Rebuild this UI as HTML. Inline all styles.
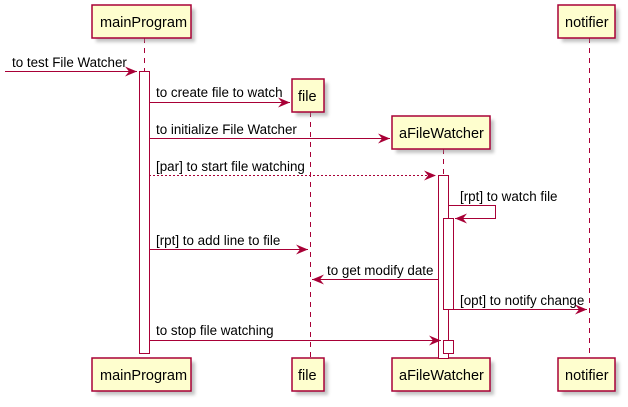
<!DOCTYPE html>
<html><head><meta charset="utf-8"><style>
html,body{margin:0;padding:0;background:#fff}
svg text{font-family:"Liberation Sans",sans-serif;font-size:13.4px;fill:#000}
.h{font-size:14.5px}
</style></head><body>
<svg width="628" height="402" viewBox="0 0 628 402" xmlns="http://www.w3.org/2000/svg">
<defs>
<filter id="s" x="-10%" y="-10%" width="130%" height="140%"><feGaussianBlur stdDeviation="1.5"/></filter>
</defs>
<g stroke="#A80036" stroke-width="1" stroke-dasharray="5,5" fill="none">
<line x1="144.5" y1="38" x2="144.5" y2="358"/>
<line x1="310.5" y1="112" x2="310.5" y2="358"/>
<line x1="443.5" y1="149" x2="443.5" y2="358"/>
<line x1="589.5" y1="38" x2="589.5" y2="358"/>
</g>
<g fill="#888" opacity="0.5" filter="url(#s)">
<rect x="96" y="9" width="99" height="33"/><rect x="296" y="83" width="32" height="33"/>
<rect x="396" y="120" width="98" height="33"/><rect x="562" y="9" width="57" height="33"/>
<rect x="96" y="362" width="99" height="33"/><rect x="296" y="362" width="32" height="33"/>
<rect x="396" y="362" width="98" height="33"/><rect x="562" y="362" width="57" height="33"/>
</g>
<g fill="#FEFECE" stroke="#A80036" stroke-width="1.5">
<rect x="92" y="5" width="99" height="33"/><rect x="292" y="79" width="32" height="33"/>
<rect x="392" y="116" width="98" height="33"/><rect x="558" y="5" width="57" height="33"/>
<rect x="92" y="358" width="99" height="33"/><rect x="292" y="358" width="32" height="33"/>
<rect x="392" y="358" width="98" height="33"/><rect x="558" y="358" width="57" height="33"/>
</g>
<text class="h" x="100" y="27">mainProgram</text><text class="h" x="298" y="101">file</text>
<text class="h" x="399" y="138">aFileWatcher</text><text class="h" x="565" y="27">notifier</text>
<text class="h" x="100" y="380">mainProgram</text><text class="h" x="298" y="380">file</text>
<text class="h" x="399" y="380">aFileWatcher</text><text class="h" x="565" y="380">notifier</text>
<g fill="#fff" stroke="#A80036" stroke-width="1">
<rect x="139.5" y="71.5" width="10" height="282"/>
<rect x="438.5" y="175.5" width="10" height="183"/>
<rect x="443.5" y="218.5" width="10" height="91"/>
<rect x="443.5" y="340.5" width="10" height="13"/>
</g>
<g stroke="#A80036" stroke-width="1" fill="none">
<line x1="5" y1="71.5" x2="137" y2="71.5"/>
<line x1="149" y1="102.5" x2="290" y2="102.5"/>
<line x1="149" y1="138.5" x2="390" y2="138.5"/>
<line x1="149" y1="175.5" x2="436" y2="175.5" stroke-dasharray="2,2"/>
<polyline points="448,205.5 495.5,205.5 495.5,218.5 455,218.5"/>
<line x1="149" y1="249.5" x2="308" y2="249.5"/>
<line x1="438" y1="279.5" x2="312" y2="279.5"/>
<line x1="453" y1="309.5" x2="587" y2="309.5"/>
<line x1="149" y1="340.5" x2="441" y2="340.5"/>
</g>
<g fill="#A80036">
<polygon points="137,71.5 125,66.5 129,71.5 125,76.5"/>
<polygon points="290,102.5 278,97.5 282,102.5 278,107.5"/>
<polygon points="390,138.5 378,133.5 382,138.5 378,143.5"/>
<polygon points="436,175.5 424,170.5 428,175.5 424,180.5"/>
<polygon points="455,218.5 467,213.5 463,218.5 467,223.5"/>
<polygon points="308,249.5 296,244.5 300,249.5 296,254.5"/>
<polygon points="312,279.5 324,274.5 320,279.5 324,284.5"/>
<polygon points="587,309.5 575,304.5 579,309.5 575,314.5"/>
<polygon points="441,340.5 429,335.5 433,340.5 429,345.5"/>
</g>
<text x="12" y="67">to test File Watcher</text>
<text x="156" y="97">to create file to watch</text>
<text x="156" y="134">to initialize File Watcher</text>
<text x="156" y="171">[par] to start file watching</text>
<text x="460" y="201">[rpt] to watch file</text>
<text x="156" y="245">[rpt] to add line to file</text>
<text x="327" y="275">to get modify date</text>
<text x="460" y="305">[opt] to notify change</text>
<text x="156" y="335">to stop file watching</text>
</svg>
</body></html>
